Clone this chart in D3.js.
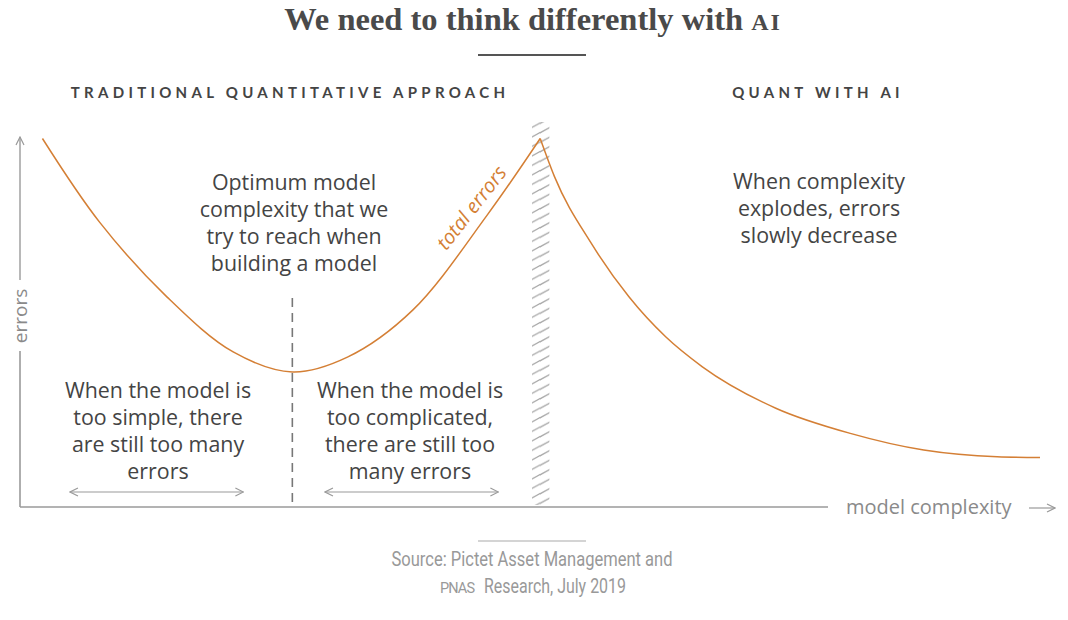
<!DOCTYPE html>
<html>
<head>
<meta charset="utf-8">
<script src="https://cdn.jsdelivr.net/npm/d3@7"></script>
<style>
  html, body { margin: 0; padding: 0; background: #fff; }
  svg { display: block; }
</style>
</head>
<body>
<svg id="chart" width="1068" height="620"></svg>
<script>
// ---- data ----
// traditional regime: complexity vs total errors (0-100 scales)
const leftComplexity = [2.2, 7.8, 14.4, 20.9, 26.7, 32.1, 38.5, 45.8, 51.0];
const leftErrors     = [99.6, 77.0, 56.8, 41.9, 36.5, 40.5, 53.2, 78.9, 99.6];
// AI regime
const rightComplexity = [51.0, 52.4, 56.0, 59.7, 63.3, 66.9, 74.1, 81.4, 88.6, 95.8, 100];
const rightErrors     = [99.6, 89.3, 71.3, 56.8, 46.0, 37.9, 26.7, 19.9, 15.4, 13.6, 13.4];
const optimumComplexity = 26.7;
const breakBand = [50.2, 51.9];       // hatched transition band (complexity)
const tooSimpleRange = [4.9, 21.9];
const tooComplexRange = [29.9, 46.9];

const titleText = "We need to think differently with ";
const titleSmallCaps = "AI";
const sectionLabels = ["TRADITIONAL QUANTITATIVE APPROACH", "QUANT WITH AI"];
const optimumNote = ["Optimum model", "complexity that we", "try to reach when", "building a model"];
const simpleNote = ["When the model is", "too simple, there", "are still too many", "errors"];
const complexNote = ["When the model is", "too complicated,", "there are still too", "many errors"];
const aiNote = ["When complexity", "explodes, errors", "slowly decrease"];
const xAxisLabel = "model complexity";
const yAxisLabel = "errors";
const curveLabel = "total errors";
const sourceLine1 = "Source: Pictet Asset Management and";
const sourceSmallCaps = "PNAS";
const sourceLine2 = "Research, July 2019";

// ---- layout ----
const svg = d3.select("#chart");
const x = d3.scaleLinear().domain([0, 100]).range([20, 1040]);
const y = d3.scaleLinear().domain([0, 100]).range([507, 137]);

const orange = "#d47f35";
const axisGrey = "#9a9a9a";
const textDark = "#444444";
const bodyFont = "'Open Sans', 'Noto Sans', sans-serif";

// defs: hatch pattern + arrow markers
const defs = svg.append("defs");
const pat = defs.append("pattern")
  .attr("id", "hatch").attr("patternUnits", "userSpaceOnUse")
  .attr("width", 18).attr("height", 9.5);
pat.append("path")
  .attr("d", "M-2,10.5 L20,-1.5 M-2,20 L20,8 M-2,1 L20,-11")
  .attr("stroke", "#a8a8a8").attr("stroke-width", 1.3).attr("fill", "none");

function arrowHead(id, orient) {
  defs.append("marker")
    .attr("id", id).attr("viewBox", "0 0 10 10")
    .attr("refX", 9).attr("refY", 5)
    .attr("markerWidth", 10).attr("markerHeight", 10)
    .attr("markerUnits", "userSpaceOnUse")
    .attr("orient", orient)
    .append("path").attr("d", "M1,1 L9,5 L1,9")
    .attr("fill", "none").attr("stroke", axisGrey).attr("stroke-width", 1.2);
}
arrowHead("arr", "auto");
arrowHead("arr2", "auto-start-reverse");

// title
const title = svg.append("text")
  .attr("x", 533).attr("y", 30).attr("text-anchor", "middle")
  .attr("font-family", "'Liberation Serif', 'DejaVu Serif', serif")
  .attr("font-weight", "bold").attr("font-size", 32.5).attr("fill", "#4a4a4a");
title.append("tspan").text(titleText);
title.append("tspan").attr("font-size", 24).attr("letter-spacing", 2).text(titleSmallCaps);

svg.append("line").attr("x1", 478).attr("x2", 586).attr("y1", 55).attr("y2", 55)
  .attr("stroke", "#555").attr("stroke-width", 2);

// section labels
function section(label, cx) {
  svg.append("text").attr("x", cx).attr("y", 98).attr("text-anchor", "middle")
    .attr("font-family", "Lato, 'Open Sans', sans-serif").attr("font-weight", "bold")
    .attr("font-size", 15).attr("letter-spacing", 4.3).attr("fill", "#444")
    .text(label);
}
section(sectionLabels[0], 290);
section(sectionLabels[1], 818);

// hatched band
svg.append("rect")
  .attr("x", x(breakBand[0])).attr("width", x(breakBand[1]) - x(breakBand[0]))
  .attr("y", 122).attr("height", y(0) - 2 - 122)
  .attr("fill", "url(#hatch)");

// axes
svg.append("line").attr("x1", x(0)).attr("x2", 828).attr("y1", y(0)).attr("y2", y(0))
  .attr("stroke", axisGrey).attr("stroke-width", 1.6);
svg.append("line").attr("x1", x(0)).attr("x2", x(0)).attr("y1", y(0)).attr("y2", 351)
  .attr("stroke", axisGrey).attr("stroke-width", 1.6);
svg.append("line").attr("x1", x(0)).attr("x2", x(0)).attr("y1", 280).attr("y2", y(100))
  .attr("stroke", axisGrey).attr("stroke-width", 1.4).attr("marker-end", "url(#arr)");
svg.append("text")
  .attr("transform", `translate(${x(0) + 7},316) rotate(-90)`)
  .attr("text-anchor", "middle").attr("font-family", bodyFont)
  .attr("font-size", 19).attr("fill", "#8a8a8a").text(yAxisLabel);
svg.append("text").attr("x", 846).attr("y", 514)
  .attr("font-family", bodyFont).attr("font-size", 20).attr("fill", "#8a8a8a").text(xAxisLabel);
svg.append("line").attr("x1", 1029).attr("x2", 1055).attr("y1", 508).attr("y2", 508)
  .attr("stroke", axisGrey).attr("stroke-width", 1.2).attr("marker-end", "url(#arr)");

// optimum dashed line
svg.append("line")
  .attr("x1", x(optimumComplexity)).attr("x2", x(optimumComplexity))
  .attr("y1", 298).attr("y2", y(0))
  .attr("stroke", "#777").attr("stroke-width", 1.6).attr("stroke-dasharray", "9,6");

// curves
const leftData = leftComplexity.map((c, i) => [c, leftErrors[i]]);
const rightData = rightComplexity.map((c, i) => [c, rightErrors[i]]);
const lineLeft = d3.line().x(d => x(d[0])).y(d => y(d[1])).curve(d3.curveCatmullRom.alpha(0.5));
const lineRight = d3.line().x(d => x(d[0])).y(d => y(d[1])).curve(d3.curveMonotoneX);
svg.append("path").datum(leftData).attr("d", lineLeft)
  .attr("fill", "none").attr("stroke", orange).attr("stroke-width", 1.5);
svg.append("path").datum(rightData).attr("d", lineRight)
  .attr("fill", "none").attr("stroke", orange).attr("stroke-width", 1.5);

// curve label
svg.append("text")
  .attr("transform", "translate(477,212) rotate(-52)")
  .attr("text-anchor", "middle").attr("font-family", bodyFont)
  .attr("font-style", "italic").attr("font-size", 20).attr("fill", orange)
  .text(curveLabel);

// double arrows
function doubleArrow(r) {
  svg.append("line").attr("x1", x(r[0])).attr("x2", x(r[1]))
    .attr("y1", 492).attr("y2", 492)
    .attr("stroke", axisGrey).attr("stroke-width", 1.2)
    .attr("marker-start", "url(#arr2)").attr("marker-end", "url(#arr)");
}
doubleArrow(tooSimpleRange);
doubleArrow(tooComplexRange);

// notes
function note(lines, cx, y0) {
  const t = svg.append("text").attr("text-anchor", "middle")
    .attr("font-family", bodyFont).attr("font-size", 21.4).attr("fill", textDark);
  lines.forEach((l, i) => t.append("tspan").attr("x", cx).attr("y", y0 + i * 27).text(l));
}
note(optimumNote, 294, 190);
note(simpleNote, 158, 398);
note(complexNote, 410, 398);
note(aiNote, 819, 189);

// source
svg.append("line").attr("x1", 478).attr("x2", 586).attr("y1", 541).attr("y2", 541)
  .attr("stroke", "#aaa").attr("stroke-width", 1.2);
const srcFont = "Roboto, 'Liberation Sans', sans-serif";
svg.append("text").attr("x", 532).attr("y", 566).attr("text-anchor", "middle")
  .attr("font-family", srcFont).attr("font-size", 20).attr("fill", "#999")
  .attr("textLength", 281).attr("lengthAdjust", "spacingAndGlyphs")
  .text(sourceLine1);
svg.append("text").attr("x", 440).attr("y", 593)
  .attr("font-family", srcFont).attr("font-size", 14.5).attr("fill", "#999")
  .attr("textLength", 35).attr("lengthAdjust", "spacing")
  .text(sourceSmallCaps);
svg.append("text").attr("x", 484).attr("y", 593)
  .attr("font-family", srcFont).attr("font-size", 20).attr("fill", "#999")
  .attr("textLength", 142).attr("lengthAdjust", "spacingAndGlyphs")
  .text(sourceLine2);
</script>
</body>
</html>
